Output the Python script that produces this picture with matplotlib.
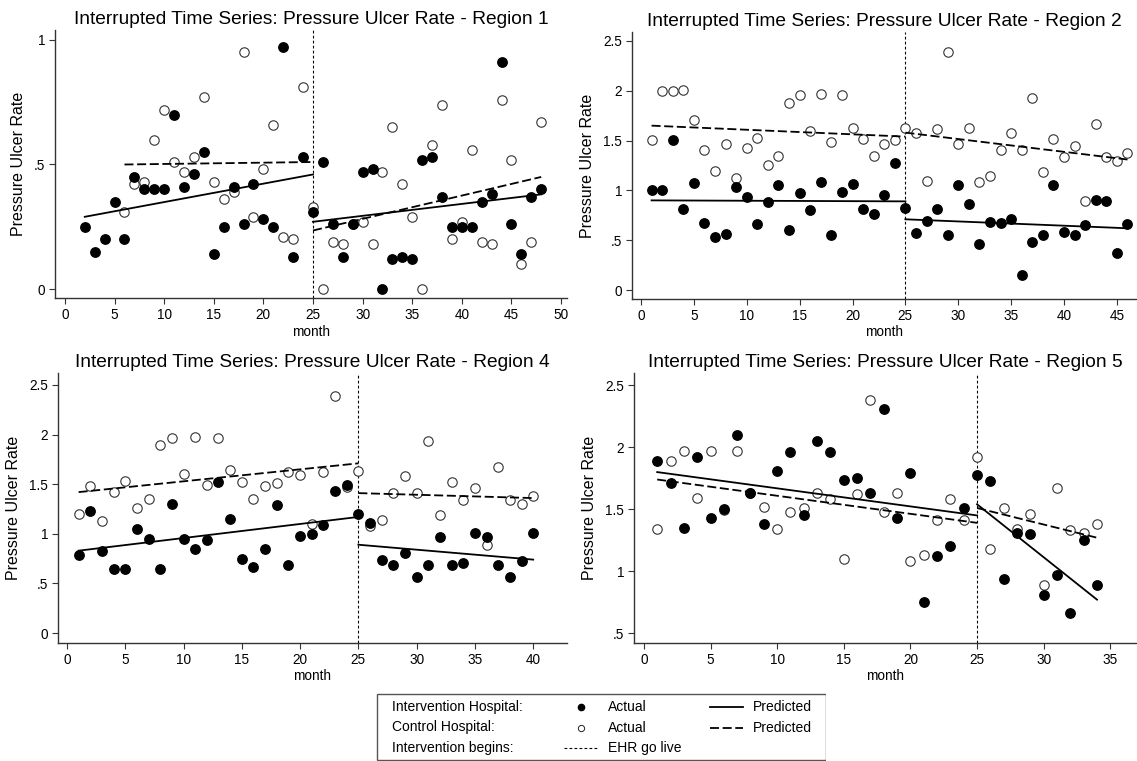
import matplotlib
matplotlib.use("Agg")
import matplotlib.pyplot as plt
from matplotlib.patches import Rectangle

plt.rcParams['font.family'] = ['Liberation Sans', 'DejaVu Sans']

# ---- data ----
# Region 1
r1_int_months = list(range(2, 49))
r1_int = [0.25, 0.15, 0.20, 0.35, 0.20, 0.45, 0.40, 0.40, 0.40, 0.70, 0.41, 0.46, 0.55,
          0.14, 0.25, 0.41, 0.26, 0.42, 0.28, 0.25, 0.97, 0.13, 0.53, 0.31, 0.51, 0.26,
          0.13, 0.26, 0.47, 0.48, 0.00, 0.12, 0.13, 0.12, 0.52, 0.53, 0.37, 0.25, 0.25,
          0.25, 0.35, 0.38, 0.91, 0.26, 0.14, 0.37, 0.40]
r1_ctl_months = list(range(6, 49))
r1_ctl = [0.31, 0.42, 0.43, 0.60, 0.72, 0.51, 0.47, 0.53, 0.77, 0.43, 0.36, 0.39, 0.95,
          0.29, 0.48, 0.66, 0.21, 0.20, 0.81, 0.33, 0.00, 0.19, 0.18, 0.26, 0.27, 0.18,
          0.47, 0.65, 0.42, 0.29, 0.00, 0.58, 0.74, 0.20, 0.27, 0.56, 0.19, 0.18, 0.76,
          0.52, 0.10, 0.19, 0.67]
r1_pred_int = [([2, 25], [0.29, 0.46]), ([25, 48], [0.27, 0.38])]
r1_pred_ctl = [([6, 25], [0.50, 0.51]), ([25, 48], [0.235, 0.45])]

# Region 2
r2_months = list(range(1, 47))
r2_int = [1.00, 1.00, 1.51, 0.81, 1.07, 0.67, 0.53, 0.56, 1.03, 0.93, 0.66, 0.88, 1.05,
          0.60, 0.97, 0.80, 1.08, 0.55, 0.98, 1.06, 0.81, 0.76, 0.95, 1.28, 0.82, 0.57,
          0.69, 0.81, 0.55, 1.05, 0.86, 0.46, 0.68, 0.67, 0.71, 0.15, 0.48, 0.55, 1.05,
          0.58, 0.55, 0.65, 0.90, 0.89, 0.37, 0.66]
r2_ctl = [1.51, 2.00, 2.00, 2.01, 1.71, 1.41, 1.19, 1.47, 1.12, 1.43, 1.53, 1.25, 1.35,
          1.88, 1.96, 1.60, 1.97, 1.49, 1.96, 1.63, 1.52, 1.35, 1.47, 1.51, 1.63, 1.58,
          1.09, 1.62, 2.39, 1.47, 1.63, 1.08, 1.14, 1.41, 1.58, 1.41, 1.93, 1.18, 1.52,
          1.34, 1.45, 0.89, 1.67, 1.34, 1.30, 1.38]
r2_pred_int = [([1, 25], [0.90, 0.89]), ([25, 46], [0.71, 0.62])]
r2_pred_ctl = [([1, 25], [1.65, 1.54]), ([25, 46], [1.58, 1.31])]

# Region 4
r4_months = list(range(1, 41))
r4_int = [0.79, 1.23, 0.83, 0.65, 0.65, 1.05, 0.95, 0.65, 1.30, 0.95, 0.85, 0.94, 1.52,
          1.15, 0.75, 0.67, 0.85, 1.29, 0.69, 0.98, 1.00, 1.09, 1.43, 1.49, 1.20, 1.11,
          0.74, 0.69, 0.81, 0.56, 0.69, 0.97, 0.69, 0.71, 1.01, 0.97, 0.69, 0.56, 0.73,
          1.01]
r4_ctl = [1.20, 1.48, 1.13, 1.42, 1.53, 1.26, 1.35, 1.89, 1.97, 1.60, 1.98, 1.49, 1.97,
          1.64, 1.52, 1.35, 1.48, 1.51, 1.62, 1.59, 1.10, 1.62, 2.39, 1.47, 1.63, 1.08,
          1.14, 1.41, 1.58, 1.41, 1.93, 1.19, 1.52, 1.34, 1.46, 0.89, 1.67, 1.34, 1.30,
          1.38]
r4_pred_int = [([1, 25], [0.83, 1.17]), ([25, 40], [0.89, 0.74])]
r4_pred_ctl = [([1, 25], [1.42, 1.71]), ([25, 40], [1.41, 1.36])]

# Region 5
r5_months = list(range(1, 35))
r5_int = [1.89, 1.71, 1.35, 1.92, 1.43, 1.50, 2.10, 1.63, 1.38, 1.81, 1.96, 1.45, 2.05,
          1.96, 1.74, 1.75, 1.63, 2.31, 1.43, 1.79, 0.75, 1.12, 1.20, 1.51, 1.78, 1.73,
          0.94, 1.31, 1.30, 0.81, 0.97, 0.66, 1.25, 0.89]
r5_ctl = [1.34, 1.89, 1.97, 1.59, 1.97, 1.49, 1.97, 1.63, 1.52, 1.34, 1.48, 1.51, 1.63,
          1.58, 1.10, 1.62, 2.38, 1.48, 1.63, 1.08, 1.13, 1.41, 1.58, 1.41, 1.92, 1.18,
          1.51, 1.34, 1.46, 0.89, 1.67, 1.33, 1.31, 1.38]
r5_pred_int = [([1, 25], [1.80, 1.45]), ([25, 34], [1.54, 0.77])]
r5_pred_ctl = [([1, 25], [1.74, 1.39]), ([25, 34], [1.51, 1.27])]

go_live = 25
y_ticks_r1 = [0, 0.5, 1]
y_labels_r1 = ['0', '.5', '1']
y_ticks_big = [0, 0.5, 1, 1.5, 2, 2.5]
y_labels_big = ['0', '.5', '1', '1.5', '2', '2.5']
y_ticks_r5 = [0.5, 1, 1.5, 2, 2.5]
y_labels_r5 = ['.5', '1', '1.5', '2', '2.5']

W, H = 1137, 761
fig = plt.figure(figsize=(W / 100, H / 100), dpi=100)


def px_axes(left, top, right, bottom):
    return fig.add_axes([left / W, 1 - bottom / H, (right - left) / W, (bottom - top) / H])


def panel(box, title, xs_i, yi, xs_c, yc, pred_i, pred_c, xlim, ylim, xticks, yticks, ylabels):
    ax = px_axes(*box)
    for xs, ys in pred_i:
        ax.plot(xs, ys, color='black', lw=1.3, zorder=3)
    for xs, ys in pred_c:
        ax.plot(xs, ys, color='black', lw=1.3, dashes=(5, 2), zorder=3)
    ax.scatter(xs_c, yc, s=46, facecolors='white', edgecolors='#333333', linewidths=0.8, zorder=2)
    ax.scatter(xs_i, yi, s=46, color='black', zorder=4)
    ax.axvline(go_live, color='black', lw=0.8, dashes=(2.5, 2), zorder=1)
    ax.set_xlim(*xlim)
    ax.set_ylim(*ylim)
    ax.set_xticks(xticks)
    ax.set_yticks(yticks)
    ax.set_yticklabels(ylabels)
    for s in ['top', 'right']:
        ax.spines[s].set_visible(False)
    for s in ['left', 'bottom']:
        ax.spines[s].set_color('#333333')
        ax.spines[s].set_linewidth(1.0)
    ax.tick_params(direction='out', length=4, width=0.8, color='#333333', labelsize=9.8, pad=3)
    ax.set_title(title, fontsize=13.8, pad=4)
    ax.set_xlabel('month', fontsize=9.8, labelpad=2)
    ax.set_ylabel('Pressure Ulcer Rate', fontsize=11.5, labelpad=6)
    return ax


panel((55, 30, 567, 298), 'Interrupted Time Series: Pressure Ulcer Rate - Region 1',
      r1_int_months, r1_int, r1_ctl_months, r1_ctl, r1_pred_int, r1_pred_ctl,
      (-1.0, 50.6), (-0.036, 1.04), range(0, 51, 5), y_ticks_r1, y_labels_r1)
panel((632, 32, 1137, 299), 'Interrupted Time Series: Pressure Ulcer Rate - Region 2',
      r2_months, r2_int, r2_months, r2_ctl, r2_pred_int, r2_pred_ctl,
      (-0.85, 46.9), (-0.09, 2.59), range(0, 46, 5), y_ticks_big, y_labels_big)
panel((58, 373, 567, 643), 'Interrupted Time Series: Pressure Ulcer Rate - Region 4',
      r4_months, r4_int, r4_months, r4_ctl, r4_pred_int, r4_pred_ctl,
      (-0.77, 42.9), (-0.1, 2.62), range(0, 41, 5), y_ticks_big, y_labels_big)
panel((634, 373, 1137, 643), 'Interrupted Time Series: Pressure Ulcer Rate - Region 5',
      r5_months, r5_int, r5_months, r5_ctl, r5_pred_int, r5_pred_ctl,
      (-0.74, 37.0), (0.42, 2.6), range(0, 36, 5), y_ticks_r5, y_labels_r5)

# legend box drawn in pixel coordinates
lg = px_axes(376, 693, 826, 761)
lg.set_xlim(376, 826)
lg.set_ylim(761, 693)
lg.axis('off')
lg.add_patch(Rectangle((376.5, 693.5), 449, 66.5, fill=False, edgecolor='#555555', lw=1.0))
rows = [707, 727.5, 748]
fs = 10
lg.text(392, rows[0], 'Intervention Hospital:', fontsize=fs, va='center')
lg.text(392, rows[1], 'Control Hospital:', fontsize=fs, va='center')
lg.text(392, rows[2], 'Intervention begins:', fontsize=fs, va='center')
lg.plot([581], [rows[0]], 'o', color='black', ms=4.5)
lg.plot([581], [rows[1]], 'o', mfc='white', mec='#222222', mew=0.7, ms=4.5)
lg.text(608, rows[0], 'Actual', fontsize=fs, va='center')
lg.text(608, rows[1], 'Actual', fontsize=fs, va='center')
lg.plot([710, 743], [rows[0], rows[0]], color='black', lw=1.3)
lg.plot([710, 743], [rows[1], rows[1]], color='black', lw=1.3, dashes=(5, 2))
lg.text(753, rows[0], 'Predicted', fontsize=fs, va='center')
lg.text(753, rows[1], 'Predicted', fontsize=fs, va='center')
lg.plot([564, 599], [rows[2], rows[2]], color='black', lw=0.8, dashes=(2.5, 2))
lg.text(608, rows[2], 'EHR go live', fontsize=fs, va='center')

fig.savefig('out.png', dpi=100, facecolor='white')
